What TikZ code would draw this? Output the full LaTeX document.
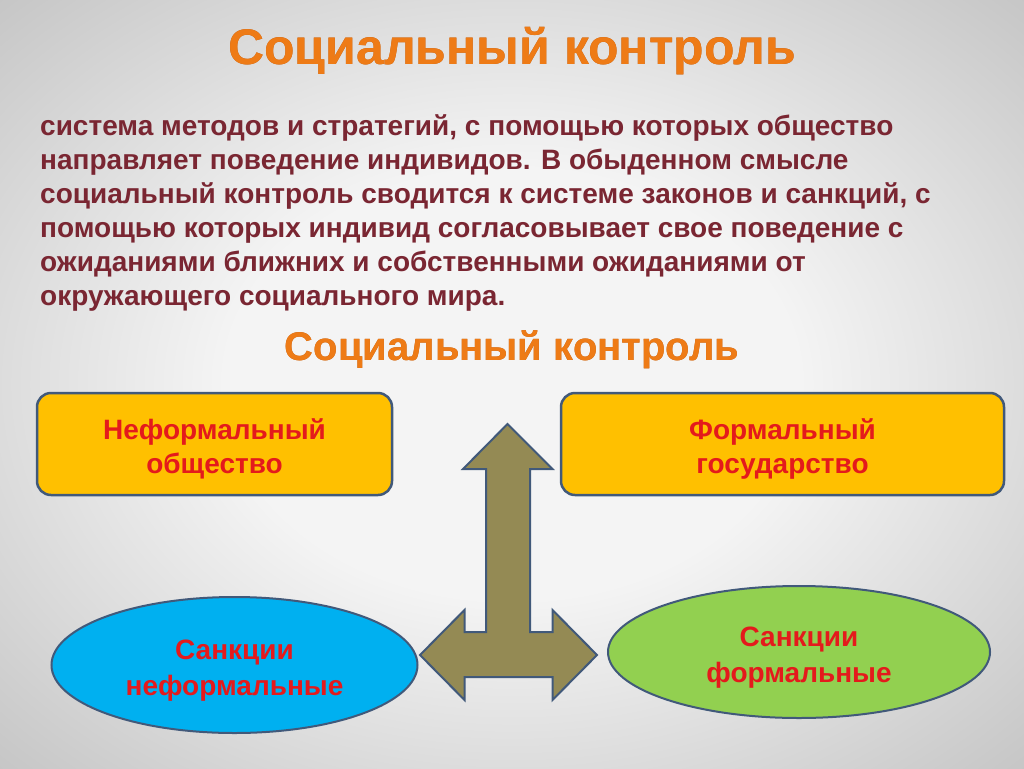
\documentclass[tikz,border=0pt]{standalone}
\usepackage{fontspec}
\setmainfont{Liberation Sans}
\usepackage[outline]{contour}
\usetikzlibrary{shapes.geometric}

\definecolor{fonclair}{HTML}{F4F4F4}
\definecolor{fonmilieu}{HTML}{C9C9C9}
\definecolor{fonbord}{HTML}{A9A9A9}
\definecolor{fonfonce}{HTML}{848484}
\definecolor{titreorange}{HTML}{EE7B16}
\definecolor{contourtitre}{HTML}{B4520A}
\definecolor{textebordeaux}{HTML}{7A2632}
\definecolor{jaunebloc}{HTML}{FFC000}
\definecolor{bordbleu}{HTML}{41597A}
\definecolor{strelka}{HTML}{948A54}
\definecolor{bleuciel}{HTML}{00B0F0}
\definecolor{vertclair}{HTML}{92D050}
\definecolor{rougetexte}{HTML}{E41A1C}

\pgfdeclareradialshading{fondslide}{\pgfpoint{0bp}{0bp}}{%
  color(0bp)=(fonclair); color(14bp)=(fonclair); color(34bp)=(fonmilieu);
  color(50bp)=(fonbord); color(71bp)=(fonfonce)}

\contourlength{0.7pt}
\newcommand{\titretexte}[1]{\contour{contourtitre}{#1}}
\newcommand{\hautligne}{\rule{0pt}{30pt}}

\tikzset{
  titre/.style={font=\bfseries\fontsize{50}{54}\selectfont, text=titreorange, inner sep=0pt},
  bloc/.style={draw=bordbleu, line width=2.5pt, fill=jaunebloc, rounded corners=14pt,
    minimum width=355pt, minimum height=102pt, align=center, text=rougetexte,
    font=\bfseries\fontsize{28}{34}\selectfont},
  sanction/.style={ellipse, draw=bordbleu, line width=2pt, align=center, text=rougetexte,
    inner sep=0pt, font=\bfseries\fontsize{28}{36}\selectfont}
}

\begin{document}
\begin{tikzpicture}[x=1pt, y=-1pt]
  % Fond
  \shade[shading=fondslide] (0,0) rectangle (1024,768);
  \useasboundingbox (0,0) rectangle (1024,768);

  % Titre principal
  \node[titre] (titre) at (512,51) {\titretexte{Социальный контроль}};

  % Définition
  \node[anchor=north west, inner sep=0pt, align=left, text=textebordeaux,
    font=\bfseries\fontsize{28}{34}\selectfont] (definition) at (40,114)
    {система методов и стратегий, с помощью которых общество\\
     направляет поведение индивидов. В обыденном смысле\\
     социальный контроль сводится к системе законов и санкций, с\\
     помощью которых индивид согласовывает свое поведение с\\
     ожиданиями ближних и собственными ожиданиями от\\
     окружающего социального мира.};

  % Sous-titre
  \node[titre, font=\bfseries\fontsize{40}{44}\selectfont] (soustitre) at (512,350)
    {\titretexte{Социальный контроль}};

  % Blocs
  \node[bloc] (neformal) at (214.5,444) {\hautligne Неформальный\\общество};
  \node[bloc, minimum width=443pt] (formal) at (782.5,444) {\hautligne Формальный\\государство};

  % Flèche à trois branches
  \draw[line width=2pt, draw=bordbleu, fill=strelka, line join=miter]
    (507.5,424) -- (552.5,469) -- (530,469) -- (530,632) -- (552.5,632) -- (552.5,610)
    -- (597,655) -- (552.5,700) -- (552.5,677) -- (464.5,677) -- (464.5,700)
    -- (420,655) -- (464.5,610) -- (464.5,632) -- (486,632) -- (486,469)
    -- (463,469) -- cycle;

  % Sanctions
  \node[sanction, fill=bleuciel, minimum width=366pt, minimum height=136pt]
    (sankcii1) at (234.5,665) {\hautligne Санкции\\неформальные};
  \node[sanction, fill=vertclair, minimum width=382pt, minimum height=132pt]
    (sankcii2) at (799,652) {\hautligne Санкции\\формальные};
\end{tikzpicture}
\end{document}
